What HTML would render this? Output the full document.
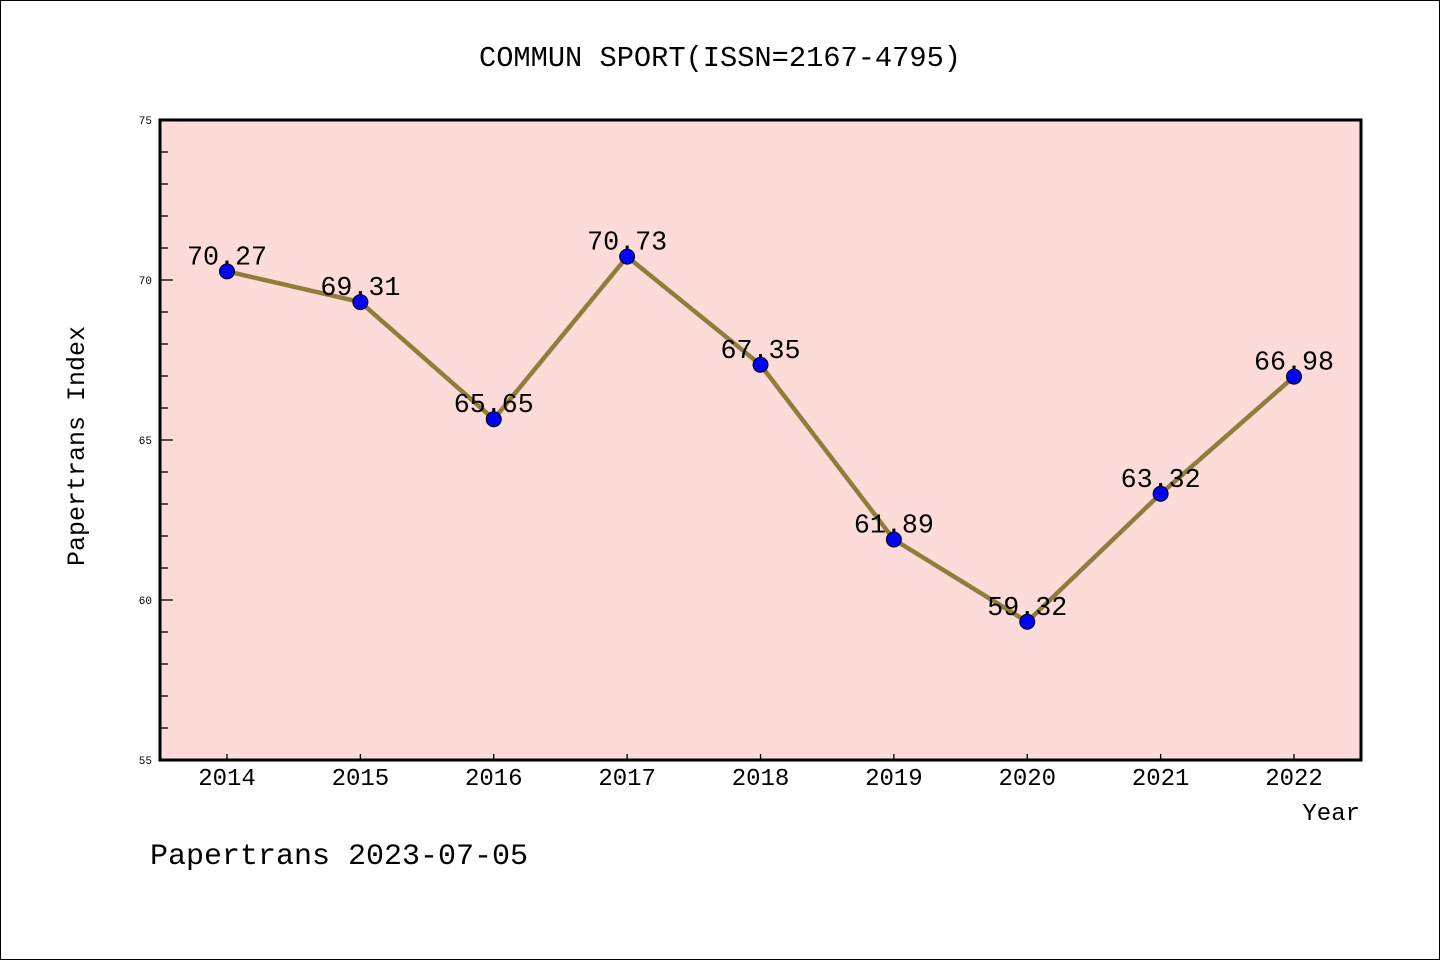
<!DOCTYPE html>
<html><head><meta charset="utf-8"><style>
html,body{margin:0;padding:0;background:#fff}
svg{display:block}
text{font-family:"Liberation Mono",monospace}
</style></head><body>
<svg id="chart" width="1440" height="960" xmlns="http://www.w3.org/2000/svg">
<rect x="0.5" y="0.5" width="1439" height="959" fill="#fff" stroke="#000"/>
<text x="720" y="66" font-size="28.7" text-anchor="middle">COMMUN SPORT(ISSN=2167-4795)</text>
<rect x="160" y="120" width="1201" height="640" fill="#fddbd8"/>
<g id="axes"></g>
<g id="series"></g>
<rect x="160" y="120" width="1201" height="640" fill="none" stroke="#000" stroke-width="3"/>
<text x="84" y="446" font-size="25" text-anchor="middle" transform="rotate(-90 84 446)">Papertrans Index</text>
<text x="1360" y="820" font-size="24" text-anchor="end">Year</text>
<text x="150" y="864" font-size="30">Papertrans 2023-07-05</text>
</svg>
<script>
const years = [2014,2015,2016,2017,2018,2019,2020,2021,2022];
const values = [70.27,69.31,65.65,70.73,67.35,61.89,59.32,63.32,66.98];
const labels = ["70.27","69.31","65.65","70.73","67.35","61.89","59.32","63.32","66.98"];
const yTicks = [55,60,65,70,75];
const NS="http://www.w3.org/2000/svg";
function xS(i){return 227+i*(1294-227)/(years.length-1);}
function yS(v){return 760-(v-55)*32;}
function mk(t,a,p){const e=document.createElementNS(NS,t);for(const k in a)e.setAttribute(k,a[k]);p.appendChild(e);return e;}
const ax=document.getElementById('axes'), se=document.getElementById('series');
for(let v=55;v<=75;v++){
  const major=yTicks.includes(v);
  const l=mk('line',{x1:160,x2:160+(major?13:8),y1:yS(v),y2:yS(v),stroke:'#000','stroke-width':1.3},ax);
  
  
}
yTicks.forEach(v=>{
  const t=mk('text',{x:152,y:yS(v)+4,'font-size':11,'text-anchor':'end'},ax);
  t.textContent=v;
  
  
});
years.forEach((y,i)=>{
  const l=mk('line',{x1:xS(i),x2:xS(i),y1:760,y2:754,stroke:'#000','stroke-width':1.3},ax);
  
  
  const t=mk('text',{x:xS(i),y:785,'font-size':24,'text-anchor':'middle'},ax);
  t.textContent=y;
  
  
});
const pts=values.map((v,i)=>xS(i)+','+yS(v)).join(' ');
const line=mk('polyline',{points:pts,fill:'none',stroke:'#917d3a','stroke-width':4.5,'stroke-linejoin':'round'},se);


values.forEach((v,i)=>{
  const c=mk('circle',{cx:xS(i),cy:yS(v),r:7.5,fill:'#0000ff',stroke:'#000','stroke-width':1},se);
  
  
});
values.forEach((v,i)=>{
  const t=mk('text',{x:xS(i),y:yS(v)-7,'font-size':26.7,'text-anchor':'middle'},se);
  t.textContent=labels[i];
  
  
});
</script>
</body></html>
